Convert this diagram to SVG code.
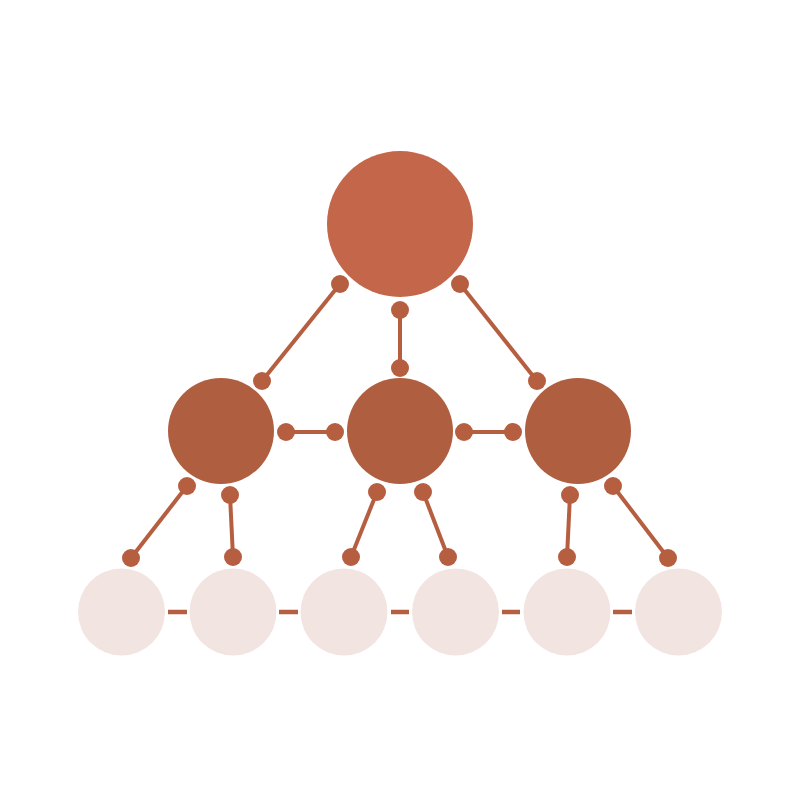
<svg xmlns="http://www.w3.org/2000/svg" width="800" height="800" viewBox="0 0 800 800">
<style>
.top{fill:#C4664A}
.mid{fill:#B05E40}
.leaf{fill:#F2E4E1}
.ln{stroke:#B65E40;stroke-width:4;stroke-linecap:butt;fill:none}
.dot{fill:#B65E40}
.dash{stroke:#B65E40;stroke-width:4.5}
</style>
<rect width="800" height="800" fill="#FFFFFF"/>
<g id="connectors">
<line class="ln" x1="340" y1="284" x2="262" y2="381"/>
<circle class="dot" cx="340" cy="284" r="9"/><circle class="dot" cx="262" cy="381" r="9"/>
<line class="ln" x1="400" y1="310" x2="400" y2="368"/>
<circle class="dot" cx="400" cy="310" r="9"/><circle class="dot" cx="400" cy="368" r="9"/>
<line class="ln" x1="460" y1="284" x2="537" y2="381"/>
<circle class="dot" cx="460" cy="284" r="9"/><circle class="dot" cx="537" cy="381" r="9"/>
<line class="ln" x1="286" y1="432" x2="335" y2="432"/>
<circle class="dot" cx="286" cy="432" r="9"/><circle class="dot" cx="335" cy="432" r="9"/>
<line class="ln" x1="464" y1="432" x2="513" y2="432"/>
<circle class="dot" cx="464" cy="432" r="9"/><circle class="dot" cx="513" cy="432" r="9"/>
<line class="ln" x1="187" y1="486" x2="131" y2="558"/>
<circle class="dot" cx="187" cy="486" r="9"/><circle class="dot" cx="131" cy="558" r="9"/>
<line class="ln" x1="230" y1="495" x2="233" y2="557"/>
<circle class="dot" cx="230" cy="495" r="9"/><circle class="dot" cx="233" cy="557" r="9"/>
<line class="ln" x1="377" y1="492" x2="351" y2="557"/>
<circle class="dot" cx="377" cy="492" r="9"/><circle class="dot" cx="351" cy="557" r="9"/>
<line class="ln" x1="423" y1="492" x2="448" y2="557"/>
<circle class="dot" cx="423" cy="492" r="9"/><circle class="dot" cx="448" cy="557" r="9"/>
<line class="ln" x1="570" y1="495" x2="567" y2="557"/>
<circle class="dot" cx="570" cy="495" r="9"/><circle class="dot" cx="567" cy="557" r="9"/>
<line class="ln" x1="613" y1="486" x2="668" y2="558"/>
<circle class="dot" cx="613" cy="486" r="9"/><circle class="dot" cx="668" cy="558" r="9"/>
<line class="dash" x1="168" y1="612" x2="187" y2="612"/>
<line class="dash" x1="279" y1="612" x2="298" y2="612"/>
<line class="dash" x1="391" y1="612" x2="409" y2="612"/>
<line class="dash" x1="502" y1="612" x2="520" y2="612"/>
<line class="dash" x1="613" y1="612" x2="632" y2="612"/>
</g>
<g id="root"><circle class="top" cx="400" cy="224" r="73"/></g>
<g id="mid-left"><circle class="mid" cx="221" cy="431" r="53"/></g>
<g id="mid-center"><circle class="mid" cx="400" cy="431" r="53"/></g>
<g id="mid-right"><circle class="mid" cx="578" cy="431" r="53"/></g>
<g id="leaf-1"><circle class="leaf" cx="121.5" cy="612" r="43.5"/></g>
<g id="leaf-2"><circle class="leaf" cx="233" cy="612" r="43.5"/></g>
<g id="leaf-3"><circle class="leaf" cx="344" cy="612" r="43.5"/></g>
<g id="leaf-4"><circle class="leaf" cx="455.5" cy="612" r="43.5"/></g>
<g id="leaf-5"><circle class="leaf" cx="567" cy="612" r="43.5"/></g>
<g id="leaf-6"><circle class="leaf" cx="678.5" cy="612" r="43.5"/></g>
</svg>
